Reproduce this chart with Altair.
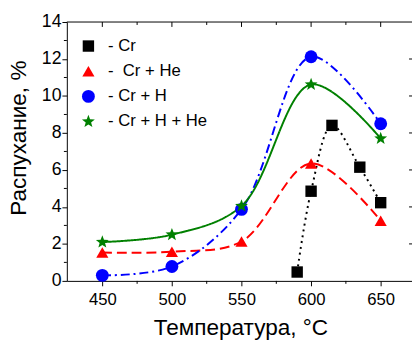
import altair as alt
import pandas as pd

# ---- data ----
series = ["- Cr", "- \u00a0Cr + He", "- Cr + H", "- Cr + H + He"]
cr_x = [590, 600, 615, 635, 650]
cr_y = [0.48, 4.85, 8.41, 6.15, 4.23]
crhe_x = [450, 500, 550, 600, 650]
crhe_y = [1.53, 1.58, 2.13, 6.35, 3.25]
crh_x = [450, 500, 550, 600, 650]
crh_y = [0.3, 0.78, 3.87, 12.12, 8.5]
crhhe_x = [450, 500, 550, 600, 650]
crhhe_y = [2.1, 2.5, 4.05, 10.62, 7.7]

STAR = ("M0,-1 L0.247,-0.34 L0.951,-0.309 L0.4,0.13 L0.588,0.809 L0,0.42 "
        "L-0.588,0.809 L-0.4,0.13 L-0.951,-0.309 L-0.247,-0.34 Z")
colors = ["#000000", "#ff0000", "#0000ff", "#008000"]
shapes = ["square", "triangle-up", "circle", STAR]
sizes = [135, 190, 205, 290]
dashes = [[2, 4], [10, 5], [9, 4, 2, 4], [1, 0]]

x_major = [450, 500, 550, 600, 650]
x_minor = [475, 525, 575, 625]
y_major = [0, 2, 4, 6, 8, 10, 12, 14]
y_minor = [1, 3, 5, 7, 9, 11, 13]
right_ticks = [2, 4, 6, 8, 10, 12]

W, H = 352, 264
FONT = "Liberation Sans"

rows = []
for name, xs, ys in zip(series, [cr_x, crhe_x, crh_x, crhhe_x], [cr_y, crhe_y, crh_y, crhhe_y]):
    for a, b in zip(xs, ys):
        rows.append({"series": name, "t": a, "v": b})
df = pd.DataFrame(rows)
leg_df = pd.DataFrame({"series": series, "row": list(range(len(series)))})

xscale = alt.Scale(domain=[424.5, 672.5], nice=False, zero=False)
yscale = alt.Scale(domain=[0, 14], nice=False, zero=False)
cscale = alt.Scale(domain=series, range=colors)
shscale = alt.Scale(domain=series, range=shapes)
szscale = alt.Scale(domain=series, range=sizes)

xaxis = alt.Axis(values=x_major, tickSize=5, labelFontSize=17, labelPadding=6,
                 title="Температура, °C", titleFontSize=23, titleFontWeight="normal",
                 titleX=177, titleY=55, titleBaseline="alphabetic", grid=False)
yaxis = alt.Axis(values=y_major, tickSize=5, labelFontSize=18, labelPadding=1,
                 title="Распухание, %", titleFontSize=23, titleFontWeight="normal",
                 titleX=-42, titleY=118, titleAngle=270, titleBaseline="alphabetic",
                 grid=False)

X = alt.X("t:Q", scale=xscale, axis=xaxis)
Y = alt.Y("v:Q", scale=yscale, axis=yaxis)

lines = alt.Chart(df).mark_line(interpolate="catmull-rom", strokeWidth=2).encode(
    x=X, y=Y,
    stroke=alt.Stroke("series:N", scale=cscale, legend=None),
    strokeDash=alt.StrokeDash("series:N", scale=alt.Scale(domain=series, range=dashes), legend=None),
)

points = alt.Chart(df).mark_point(filled=True, opacity=1).encode(
    x=X, y=Y,
    color=alt.Color("series:N", scale=cscale, legend=None),
    shape=alt.Shape("series:N", scale=shscale, legend=None),
    size=alt.Size("series:N", scale=szscale, legend=None),
)

top_line = alt.Chart(pd.DataFrame({"a": [0]})).mark_rule(color="black", strokeWidth=1).encode(
    x=alt.value(0), x2=alt.value(W), y=alt.value(0))

top_major = alt.Chart(pd.DataFrame({"t": x_major})).mark_rule(color="black").encode(
    x=X, y=alt.value(0), y2=alt.value(5))
top_minor = alt.Chart(pd.DataFrame({"t": x_minor})).mark_rule(color="black").encode(
    x=X, y=alt.value(0), y2=alt.value(3))
bottom_minor = alt.Chart(pd.DataFrame({"t": x_minor})).mark_rule(color="black").encode(
    x=X, y=alt.value(H), y2=alt.value(H + 3))
left_minor = alt.Chart(pd.DataFrame({"v": y_minor})).mark_rule(color="black").encode(
    y=Y, x=alt.value(-3), x2=alt.value(0))
right_tk = alt.Chart(pd.DataFrame({"v": right_ticks})).mark_rule(color="black").encode(
    y=Y, x=alt.value(W - 3), x2=alt.value(W))

main = alt.layer(lines, points, top_line, top_major, top_minor, bottom_minor, left_minor, right_tk)

# legend drawn inside the plot, upper-left
LY = alt.Y("row:Q", scale=alt.Scale(domain=[0, 3], range=[24.5, 101.5]), axis=None)
leg_sym = alt.Chart(leg_df).mark_point(filled=True, opacity=1).encode(
    x=alt.value(22), y=LY,
    color=alt.Color("series:N", scale=cscale, legend=None),
    shape=alt.Shape("series:N", scale=shscale, legend=None),
    size=alt.Size("series:N", scale=szscale, legend=None),
)
leg_txt = alt.Chart(leg_df).mark_text(align="left", baseline="middle", fontSize=17,
                                      font=FONT, color="black").encode(
    x=alt.value(42), y=LY, text="series:N")
leg = alt.layer(leg_sym, leg_txt)

chart = alt.layer(main, leg).resolve_scale(y="independent").properties(
    width=W, height=H,
    autosize=alt.AutoSizeParams(type="none"),
    padding={"left": 60, "top": 11, "right": 0, "bottom": 58},
).configure(font=FONT).configure_view(stroke=None).configure_axis(
    domainColor="black", tickColor="black", labelColor="black", titleColor="black",
    labelFont=FONT, titleFont=FONT,
)

chart.save("out.html", embed_options={"renderer": "svg", "actions": False})
